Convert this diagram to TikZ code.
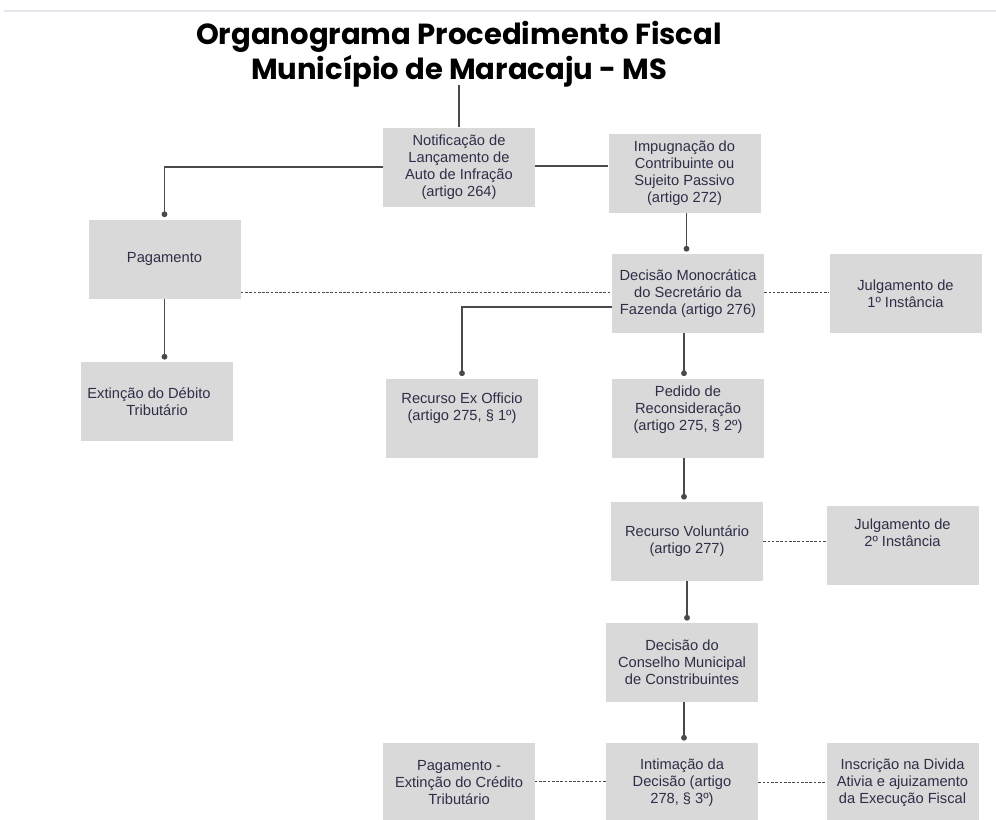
\documentclass[tikz,border=0pt]{standalone}
\usepackage{fontspec}
\setmainfont{Liberation Sans}
\newfontfamily\titlefont{Poppins}
\usetikzlibrary{arrows.meta}
\definecolor{boxgray}{HTML}{D9D9D9}
\definecolor{txtcol}{HTML}{2E2E48}
\definecolor{linecol}{HTML}{4A4A4A}
\definecolor{topline}{HTML}{E2E6EC}
\begin{document}
\begin{tikzpicture}[x=0.75pt,y=-0.75pt,
  box/.style={fill=boxgray,draw=none,minimum width=114pt,minimum height=59.25pt,
    inner sep=1pt,align=center,text=txtcol,font=\fontsize{11}{12.9}\selectfont},
  conn/.style={draw=linecol,line width=1.1pt},
  dotconn/.style={conn,-{Circle[length=4.3pt]},shorten >=1.6pt},
  dashconn/.style={draw=linecol,line width=0.7pt,dash pattern=on 2pt off 1.2pt}]
\useasboundingbox (0,0) rectangle (996,819);
\fill[white] (0,0) rectangle (996,819);
\draw[topline,line width=1.2pt] (4,11) -- (996,11);
\node[font=\titlefont\bfseries\fontsize{21.8}{26.5}\selectfont,align=center,inner sep=0pt] (title) at (459,54)
  {Organograma Procedimento Fiscal\\Município de Maracaju - MS};
\node[box] (notif) at (459,167) {Notificação de\\Lançamento de\\Auto de Infração\\(artigo 264)};
\node[box] (impug) at (684.5,173) {Impugnação do\\Contribuinte ou\\Sujeito Passivo\\(artigo 272)};
\node[box] (pag) at (164.5,259) {Pagamento};
\node[box] (ext) at (157,401.5) {\hspace*{-12pt}Extinção do Débito\\Tributário};
\node[box] (exoff) at (462,418) {Recurso Ex Officio\\(artigo 275, § 1º)\\[4pt]};
\node[box] (decmono) at (688,293.5) {Decisão Monocrática\\do Secretário da\\Fazenda (artigo 276)};
\node[box] (julg1) at (905.5,293.5) {Julgamento de\\1º Instância};
\node[box] (pedido) at (688,418) {Pedido de\\Reconsideração\\(artigo 275, § 2º)\\[2pt]};
\node[box] (recvol) at (687,541.5) {Recurso Voluntário\\(artigo 277)};
\node[box] (julg2) at (902.5,545.5) {Julgamento de\\2º Instância\\[6pt]};
\node[box] (conselho) at (682,662.5) {Decisão do\\Conselho Municipal\\de Constribuintes};
\node[box] (intim) at (682,782.5) {Intimação da\\Decisão (artigo\\278, § 3º)};
\node[box] (pagext) at (459,782.5) {Pagamento -\\Extinção do Crédito\\Tributário};
\node[box] (inscr) at (902.5,782.5) {Inscrição na Divida\\Ativia e ajuizamento\\da Execução Fiscal};
% connectors
\coordinate (tb) at (459,85);
\draw[conn] (tb) -- (notif.north);
\draw[dotconn] ([yshift=0.1pt]notif.west) -| (pag.north);
\draw[conn] ([yshift=0.75pt]notif.east) -- ([yshift=0.75pt]notif.east -| impug.west);
\draw[dotconn] ([xshift=1.5pt]impug.south) -- ([xshift=1.5pt]impug.south |- decmono.north);
\draw[dotconn] (pag.south) -- (pag.south |- ext.north);
\draw[dashconn] ([yshift=1pt]pag.east |- decmono.west) -- ([yshift=1pt]decmono.west);
\draw[dotconn] ([yshift=-10pt]decmono.west) -| (exoff.north);
\draw[dashconn] ([yshift=1pt]decmono.east) -- ([yshift=1pt]decmono.east -| julg1.west);
\draw[dotconn] ([xshift=-3pt]decmono.south) -- ([xshift=-3pt]decmono.south |- pedido.north);
\draw[dotconn] ([xshift=-3pt]pedido.south) -- ([xshift=-3pt]pedido.south |- recvol.north);
\draw[dashconn] (recvol.east) -- (recvol.east -| julg2.west);
\draw[dotconn] (recvol.south) -- (recvol.south |- conselho.north);
\draw[dotconn] ([xshift=1.5pt]conselho.south) -- ([xshift=1.5pt]conselho.south |- intim.north);
\draw[dashconn] ([yshift=1pt]intim.west) -- ([yshift=1pt]intim.west -| pagext.east);
\draw[dashconn] (intim.east) -- (intim.east -| inscr.west);
\end{tikzpicture}
\end{document}
